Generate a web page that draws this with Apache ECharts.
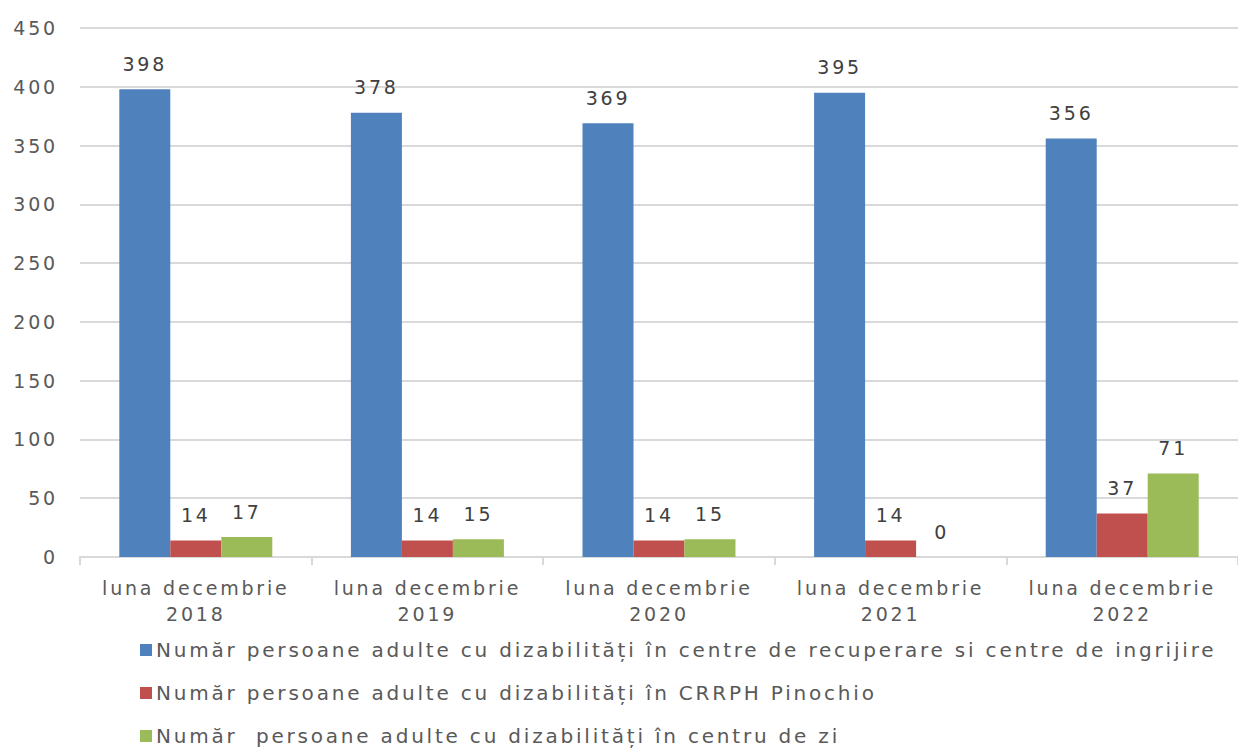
<!DOCTYPE html>
<html lang="ro">
<head>
  <meta charset="UTF-8">
  <title>Persoane adulte cu dizabilități</title>
  <script src="https://cdn.jsdelivr.net/npm/echarts@6/dist/echarts.min.js"></script>
  <style>
    html, body { margin: 0; padding: 0; background: #fff; }
    #chart { width: 1238px; height: 752px; }
    /* textul din original e mai "aerisit" */
    #chart text { letter-spacing: 2.8px; }
  </style>
</head>
<body>
<div id="chart"></div>
<script>
  // categorii (luni)
  const categories = [
    "luna decembrie\n2018",
    "luna decembrie\n2019",
    "luna decembrie\n2020",
    "luna decembrie\n2021",
    "luna decembrie\n2022"
  ];
  const seriesNames = [
    "Număr persoane adulte cu dizabilități în centre de recuperare si centre de ingrijire",
    "Număr persoane adulte cu dizabilități în CRRPH Pinochio",
    "Număr  persoane adulte cu dizabilități în centru de zi"
  ];
  const centreRecuperare = [398, 378, 369, 395, 356];
  const crrphPinochio = [14, 14, 14, 14, 37];
  const centruZi = [17, 15, 15, 0, 71];
  const colors = ["#4F81BD", "#C0504D", "#9BBB59"];

  const fontFam = "DejaVu Sans";
  let myChart = echarts.init(document.getElementById("chart"), null, { renderer: "svg" });

  function mkSeries(name, data, color) {
    return {
      name: name,
      type: "bar",
      barWidth: 51,
      barGap: "0%",
      itemStyle: { color: color },
      label: {
        show: true,
        position: "top",
        distance: 16,
        color: "#404040",
        fontSize: 19,
        fontFamily: fontFam
      },
      data: data
    };
  }

  var option = {
    animation: false,
    textStyle: { fontFamily: fontFam },
    grid: { left: 80, right: 0, top: 28, height: 529 },
    legend: {
      orient: "vertical",
      left: 140,
      top: 640,
      height: 112,
      padding: 0,
      itemGap: 23,
      itemWidth: 12,
      itemHeight: 12,
      icon: "rect",
      textStyle: { color: "#595959", fontSize: 20, fontFamily: fontFam, padding: [0, 0, 0, -1] },
      data: seriesNames
    },
    xAxis: {
      type: "category",
      data: categories,
      axisLine: { lineStyle: { color: "#d9d9d9", width: 2 } },
      axisTick: { show: true, length: 8, lineStyle: { color: "#d9d9d9", width: 2 } },
      axisLabel: {
        color: "#595959",
        fontSize: 19,
        lineHeight: 26,
        margin: 18,
        fontFamily: fontFam
      }
    },
    yAxis: {
      type: "value",
      min: 0,
      max: 450,
      interval: 50,
      axisLine: { show: false },
      axisTick: { show: false },
      splitLine: { lineStyle: { color: "#d9d9d9", width: 2 } },
      axisLabel: { color: "#595959", fontSize: 19, margin: 22, fontFamily: fontFam }
    },
    series: [
      mkSeries(seriesNames[0], centreRecuperare, colors[0]),
      mkSeries(seriesNames[1], crrphPinochio, colors[1]),
      mkSeries(seriesNames[2], centruZi, colors[2])
    ]
  };
  myChart.setOption(option, true);
  window.addEventListener("resize", function () {
    myChart.resize();
  });
</script>
</body>
</html>
